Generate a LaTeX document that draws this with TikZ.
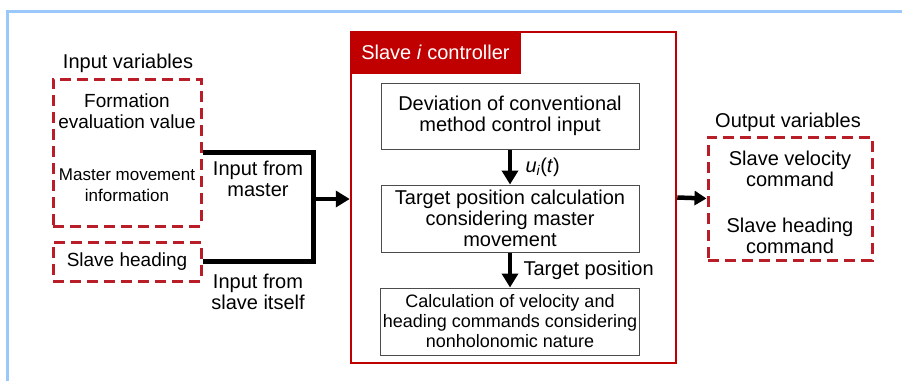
\documentclass[tikz,border=0pt]{standalone}
\usepackage{fontspec}
\setmainfont{Liberation Sans}
\usetikzlibrary{arrows.meta}

\definecolor{ctrlred}{RGB}{192,0,0}
\definecolor{varred}{RGB}{185,30,40}
\definecolor{frameblue}{RGB}{155,200,250}

\begin{document}
\begin{tikzpicture}[x=1pt, y=-1pt,
        font=\fontsize{20}{21}\selectfont,
        varbox/.style={draw=varred, line width=3pt, dash pattern=on 11pt off 6pt},
        block/.style={draw=black!70, line width=1pt, fill=white, minimum width=258pt, minimum height=67pt, align=center, inner sep=2pt},
        flow/.style={line width=4.5pt, -{Triangle[length=14pt,width=16pt]}},
        feed/.style={line width=5pt}]
        \useasboundingbox (0,0) rectangle (902,381);

        \draw[frameblue, line width=3pt] (902,11) -- (7,11) -- (7,381);

        % input side
        \node (invlabel) at (128,63) {Input variables};
        \node[varbox, minimum width=148pt, minimum height=147pt] (inbox) at (127,152.5) {};
        \node[align=center, font=\fontsize{19}{21}\selectfont] (formation) at (127,111) {Formation\\evaluation value};
        \node[align=center, font=\fontsize{17}{21}\selectfont] (mastermove) at (127,185.5) {Master movement\\information};
        \node[varbox, minimum width=148pt, minimum height=39pt, font=\fontsize{19}{21}\selectfont] (headbox) at (127,261.5) {Slave heading};

        \coordinate (join) at (313,199);
        \draw[feed] (inbox.east) -| (join) |- (headbox.east);
        \node[align=center] (frommaster) at (258,179) {Input from\\master};
        \node[align=center] (fromslave) at (258,292) {Input from\\slave itself};

        % controller
        \node[draw=ctrlred, line width=2.5pt, minimum width=325pt, minimum height=331pt] (ctrl) at (513.5,197.5) {};
        \node[fill=ctrlred, text=white, anchor=north west, minimum width=171pt, minimum height=43pt] (ctrlhead) at (ctrl.north west) {Slave \textit{i} controller};
        \draw[flow] (join) -- (join -| ctrl.west);

        \node[block, minimum height=66pt] (devi) at (510,116) {Deviation of conventional\\method control input};
        \node[block] (target) at (510,218.5) {Target position calculation\\considering master\\movement};
        \node[block, font=\fontsize{18}{20}\selectfont] (cmd) at (510,321.5) {Calculation of velocity and\\heading commands considering\\nonholonomic nature};

        \draw[flow] (devi) -- (target) node[midway, right=10pt] {\textit{u\textsubscript{i}}(\textit{t})};
        \draw[flow] (target) -- (cmd) node[midway, right=8pt] {Target position};

        % output side
        \node (outlabel) at (788,122) {Output variables};
        \node[varbox, minimum width=164pt, minimum height=123pt] (outbox) at (790,198.5) {};
        \node[align=center] (velcmd) at (790,169) {Slave velocity\\command};
        \node[align=center] (headcmd) at (790,235.5) {Slave heading\\command};
        \draw[flow, -{Triangle[length=12pt,width=14pt]}] (ctrl.east) -- (outbox.west);
    \end{tikzpicture}
\end{document}
